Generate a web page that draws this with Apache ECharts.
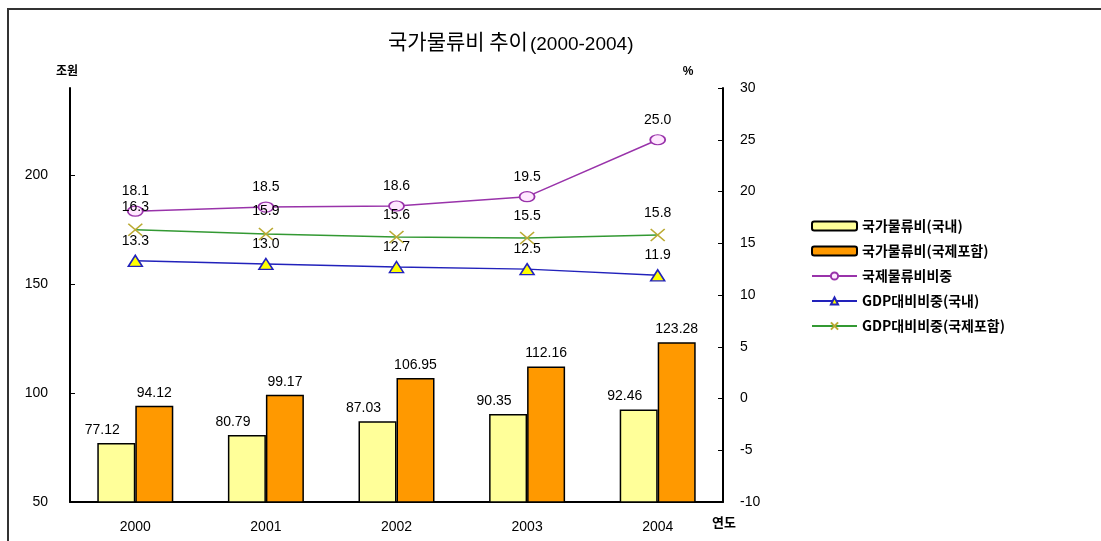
<!DOCTYPE html>
<html>
<head>
<meta charset="utf-8">
<script src="https://cdn.jsdelivr.net/npm/echarts@6/dist/echarts.min.js"></script>
<style>
html,body{margin:0;padding:0;background:#fff;}
#main{width:1101px;height:541px;}
</style>
</head>
<body>
<div id="main"></div>
<script>
// 연도
var years = ['2000', '2001', '2002', '2003', '2004'];
// 조원
var domestic = [77.12, 80.79, 87.03, 90.35, 92.46];
var withIntl = [94.12, 99.17, 106.95, 112.16, 123.28];
// %
var intlShare = [18.1, 18.5, 18.6, 19.5, 25.0];
var gdpDomestic = [13.3, 13.0, 12.7, 12.5, 11.9];
var gdpWithIntl = [16.3, 15.9, 15.6, 15.5, 15.8];
var leftTicks = [50, 100, 150, 200];

var numFont = 'Liberation Sans';
var krFont = '"Noto Sans CJK KR", sans-serif';

function lineLabel(fmt) {
    return {
        show: true,
        position: 'top',
        distance: 7,
        color: '#000',
        fontFamily: numFont,
        fontSize: 14,
        formatter: function (p) { return p.value.toFixed(fmt); }
    };
}

var myChart = echarts.init(document.getElementById('main'));
var option = {
    backgroundColor: '#fff',
    animation: false,
    title: {
        text: '국가물류비 추이{s|(2000-2004)}',
        left: 383,
        top: 24,
        textStyle: {
            fontFamily: krFont,
            fontSize: 21,
            fontWeight: 'normal',
            color: '#000',
            rich: {
                s: { fontFamily: numFont, fontSize: 19, padding: [6, 0, 0, 2], color: '#000' }
            }
        }
    },
    graphic: [
        { type: 'rect', shape: { x: 8, y: 9, width: 1200, height: 600 },
          style: { fill: 'none', stroke: '#333', lineWidth: 2 } },
        { type: 'text', left: 712, top: 516,
          style: { text: '연도', fontFamily: krFont, fontSize: 13, fontWeight: 'bold', fill: '#000' } }
    ],
    legend: {
        orient: 'vertical',
        left: 806,
        top: 214,
        itemWidth: 45,
        itemHeight: 9,
        itemGap: 11,
        textStyle: { fontFamily: krFont, fontSize: 14, fontWeight: 'bold', color: '#000' },
        data: ['국가물류비(국내)', '국가물류비(국제포함)', '국제물류비비중', 'GDP대비비중(국내)', 'GDP대비비중(국제포함)']
    },
    grid: { left: 70, right: 378, top: 88, bottom: 39 },
    xAxis: {
        type: 'category',
        data: years,
        axisLine: { onZero: false, lineStyle: { color: '#000', width: 2 } },
        axisTick: { inside: true, length: 4, lineStyle: { color: '#000' } },
        axisLabel: { color: '#000', fontFamily: numFont, fontSize: 14, margin: 18 }
    },
    yAxis: [
        {
            type: 'value',
            min: 50,
            max: 240,
            interval: 50,
            name: '조원',
            nameGap: 12,
            nameTextStyle: { fontFamily: krFont, fontSize: 12, fontWeight: 'bold', color: '#000', padding: [0, 6, 0, 0] },
            axisLine: { show: true, lineStyle: { color: '#000', width: 2 } },
            axisTick: { show: true, inside: true, length: 5, customValues: leftTicks, lineStyle: { color: '#000' } },
            axisLabel: { color: '#000', fontFamily: numFont, fontSize: 14, margin: 22, customValues: leftTicks },
            splitLine: { show: false }
        },
        {
            type: 'value',
            min: -10,
            max: 30,
            interval: 5,
            name: '%',
            nameGap: 10,
            nameTextStyle: { fontFamily: numFont, fontSize: 12, fontWeight: 'bold', color: '#000', padding: [0, 70, 0, 0] },
            axisLine: { show: true, lineStyle: { color: '#000', width: 2 } },
            axisTick: { show: true, inside: true, length: 5, lineStyle: { color: '#000' } },
            axisLabel: { color: '#000', fontFamily: numFont, fontSize: 14, margin: 17 },
            splitLine: { show: false }
        }
    ],
    series: [
        {
            name: '국가물류비(국내)',
            type: 'bar',
            data: domestic,
            barWidth: 38,
            barGap: '0%',
            itemStyle: { color: '#FFFF99', borderColor: '#000', borderWidth: 1.5 },
            label: { show: true, position: 'top', distance: 6, offset: [-14, 0], color: '#000',
                     fontFamily: numFont, fontSize: 14, formatter: function (p) { return p.value.toFixed(2); } }
        },
        {
            name: '국가물류비(국제포함)',
            type: 'bar',
            data: withIntl,
            barWidth: 38,
            barGap: '0%',
            itemStyle: { color: '#FF9900', borderColor: '#000', borderWidth: 1.5 },
            label: { show: true, position: 'top', distance: 6, color: '#000',
                     fontFamily: numFont, fontSize: 14, formatter: function (p) { return p.value.toFixed(2); } }
        },
        {
            name: '국제물류비비중',
            type: 'line',
            yAxisIndex: 1,
            data: intlShare,
            symbol: 'path://M0,5 A7,5 0 1,1 14,5 A7,5 0 1,1 0,5 Z',
            symbolSize: [15, 10],
            showAllSymbol: true,
            lineStyle: { color: '#9933AA', width: 1.5 },
            itemStyle: { color: '#FFE8FF', borderColor: '#9933AA', borderWidth: 1.5 },
            label: lineLabel(1)
        },
        {
            name: 'GDP대비비중(국내)',
            type: 'line',
            yAxisIndex: 1,
            data: gdpDomestic,
            symbol: 'triangle',
            symbolSize: [14, 11],
            lineStyle: { color: '#2222BB', width: 1.5 },
            itemStyle: { color: '#FFFF00', borderColor: '#2222BB', borderWidth: 1.5 },
            label: lineLabel(1)
        },
        {
            name: 'GDP대비비중(국제포함)',
            type: 'line',
            yAxisIndex: 1,
            data: gdpWithIntl,
            symbol: 'path://M0,0 L10,10 M10,0 L0,10',
            symbolSize: [14, 12],
            lineStyle: { color: '#339933', width: 1.5 },
            itemStyle: { color: 'none', borderColor: '#BBAA33', borderWidth: 1.5 },
            label: lineLabel(1)
        }
    ]
};
myChart.setOption(option);
</script>
</body>
</html>
